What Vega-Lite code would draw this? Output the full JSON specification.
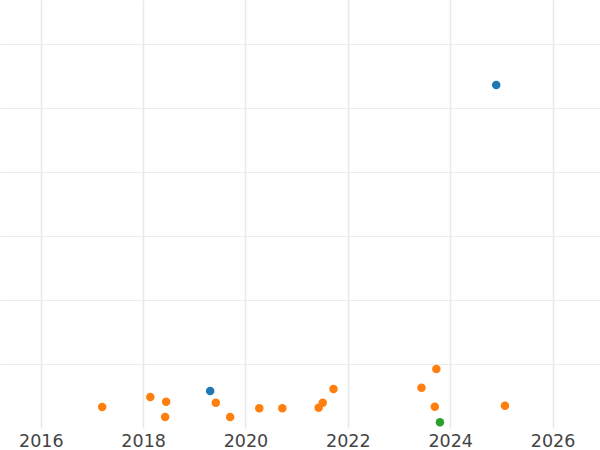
{
  "$schema": "https://vega.github.io/schema/vega-lite/v6.json",
  "width": 600,
  "height": 428,
  "autosize": {"type": "none"},
  "padding": {"left": 0, "top": 0, "right": 0, "bottom": 22},
  "background": "white",
  "config": {"view": {"stroke": null}},
  "data": {
    "values": [
      {"year": 2017.20, "value": 0.328, "group": "B"},
      {"year": 2018.14, "value": 0.484, "group": "B"},
      {"year": 2018.45, "value": 0.41, "group": "B"},
      {"year": 2018.43, "value": 0.172, "group": "B"},
      {"year": 2019.31, "value": 0.578, "group": "A"},
      {"year": 2019.42, "value": 0.395, "group": "B"},
      {"year": 2019.70, "value": 0.172, "group": "B"},
      {"year": 2020.27, "value": 0.307, "group": "B"},
      {"year": 2020.72, "value": 0.307, "group": "B"},
      {"year": 2021.43, "value": 0.318, "group": "B"},
      {"year": 2021.51, "value": 0.396, "group": "B"},
      {"year": 2021.72, "value": 0.609, "group": "B"},
      {"year": 2023.44, "value": 0.63, "group": "B"},
      {"year": 2023.73, "value": 0.922, "group": "B"},
      {"year": 2023.70, "value": 0.333, "group": "B"},
      {"year": 2023.80, "value": 0.089, "group": "C"},
      {"year": 2025.07, "value": 0.349, "group": "B"},
      {"year": 2024.90, "value": 5.36, "group": "A"}
    ]
  },
  "mark": {"type": "point", "filled": true, "opacity": 1, "size": 72},
  "encoding": {
    "x": {
      "field": "year", "type": "quantitative",
      "scale": {"domain": [2015.203, 2026.928], "nice": false, "zero": false},
      "axis": {
        "title": null, "values": [2016, 2018, 2020, 2022, 2024, 2026], "format": "d",
        "domain": false, "ticks": false, "labelPadding": 4,
        "labelFont": "DejaVu Sans", "labelFontSize": 17.5, "labelColor": "#444444",
        "gridColor": "#e8e8e8", "gridWidth": 1.5, "labelFlush": false
      }
    },
    "y": {
      "field": "value", "type": "quantitative",
      "scale": {"domain": [0, 6.6875], "nice": false, "zero": false},
      "axis": {
        "title": null, "values": [1, 2, 3, 4, 5, 6], "labels": false,
        "domain": false, "ticks": false, "gridColor": "#ebebeb", "gridWidth": 1
      }
    },
    "color": {
      "field": "group", "type": "nominal",
      "scale": {"domain": ["A", "B", "C"], "range": ["#1f77b4", "#ff7f0e", "#2ca02c"]},
      "legend": null
    }
  }
}
